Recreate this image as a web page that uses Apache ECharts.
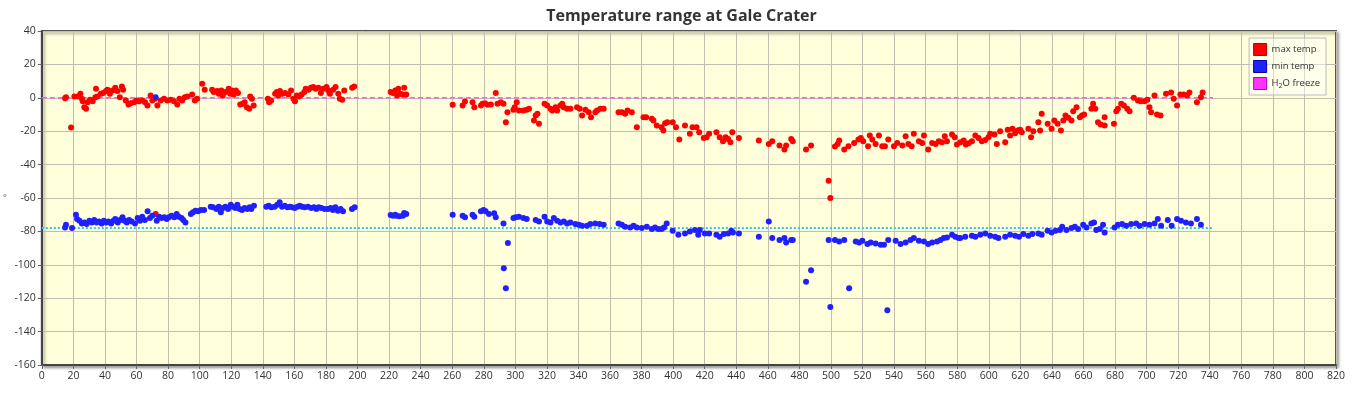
<!DOCTYPE html>
<html><head><meta charset="utf-8">
<script src="https://cdn.jsdelivr.net/npm/echarts@6/dist/echarts.min.js"></script>
<style>html,body{margin:0;padding:0;background:#fff}#c{width:1363px;height:393px}</style>
</head><body><div id="c"></div>
<script>
// [sol, °C] pairs
const maxTemp = [
[14.7,-0.2],[15.3,0.4],[18.5,-17.8],[20.6,0.8],[22.7,0.8],[24.4,2.4],[25.4,-0.6],[25.9,-2],[26.9,-5.6],[28,-6.6],[29,-2.6],[30.5,-1.2],[32.2,-2],[33.9,0.4],[34.3,5.4],[35.3,0.8],[37.4,2.4],[38.9,2.8],[40.6,4],[41.6,4.8],[43.1,2.4],[44.8,4.4],[46.5,6],[47.9,4],[49.4,0.4],[50.7,6.8],[51.5,4.8],[53.2,-1.6],[54.9,-4],[56.3,-3.2],[58.5,-2.6],[59.9,-1.6],[61.6,-2],[63.7,-1.6],[65.4,-2.6],[66.9,-4.6],[68.9,1.4],[70,-1.6],[71.7,-0.6],[72.1,-69.6],[73.2,-4.6],[75.3,-1.6],[77.4,-0.6],[79.5,-1.6],[81.6,-1.2],[83.7,-2],[85.8,-4],[87.2,-0.6],[88.9,-1.6],[90.6,0.4],[92.1,0.8],[95.2,2],[96.9,-1.6],[98.4,-0.6],[101.6,8.4],[103.2,4.8],[107.9,4.8],[108.9,3.4],[111,4],[112.1,2.4],[113.7,4.4],[114.6,1.4],[116.3,3.4],[118.4,5.4],[119.4,2.4],[120.5,4.4],[121.5,2],[123,4.4],[124.3,2.8],[125.7,-4],[127.2,-3.6],[128.5,-2.6],[129.9,-5.6],[131.4,-6.6],[132,0.8],[133.1,-0.6],[134.2,-4.6],[143.2,-0.6],[144,-2.6],[145.3,-1.6],[147.8,2.4],[148.9,3.4],[149.9,1.4],[150.9,4],[152.4,2.4],[154.1,2.8],[156.2,2],[157.9,4.4],[159.4,-0.6],[160.4,-2],[161.5,1.4],[162.9,0.8],[164.6,2],[166.3,3.4],[167.2,5.4],[168.9,4.8],[170.5,6],[172,6.4],[173.5,5.4],[175.2,6],[176.8,2.8],[178.3,5.4],[180.4,6.4],[181.5,4.4],[182.5,2.4],[184.6,4.8],[186.1,6.4],[187.8,2.4],[188.8,-0.6],[190.3,-1.2],[191.6,4.4],[196.6,6],[197.9,6.8],
[221,3.4],[222.4,2.8],[223.9,4.4],[225.1,1.4],[225.9,5.4],[227.2,2.4],[228.6,2],[229.6,6],[230.9,2],
[260.3,-4.2],[266.6,-4.6],[268.1,-2.2],[272.9,-2.6],[274,-5.6],[278.2,-4.6],[279.2,-3.6],[280.7,-3.2],[282.4,-4.2],[284.5,-4],[287.6,2.8],[288.7,-3.6],[290.8,-2.6],[292.5,-3.6],[294,-14.6],[295,-8.6],[298.8,-7.2],[299.6,-5.6],[300.9,-2.6],[302.3,-7.6],[305.1,-7.6],[307.2,-7.2],[308.7,-6.6],[311.8,-13.6],[312.9,-10.6],[314,-9.6],[315,-15.6],[318.5,-3.6],[320.2,-4.6],[322.3,-6.6],[323.4,-7.6],[325.5,-5.6],[326.5,-7.6],[328.6,-4.6],[329.7,-3.6],[330.7,-5.6],[332.8,-6.6],[334.9,-6.6],[339.1,-5.6],[340.8,-6.6],[342.3,-10.6],[344.4,-7.2],[346.5,-8.6],[348,-11.6],[350.7,-8.6],[351.8,-7.6],[353.9,-6.6],[356,-6.6],[365.4,-8.6],[367.5,-8.6],[369.6,-9.6],[371.1,-7.6],[373.8,-8.6],[377,-17.6],[381.2,-11.6],[382.9,-11.6],[386.5,-12.6],[387.5,-13.6],[389.6,-16.6],
[392.7,-17.6],[393.8,-19.6],[394.9,-15.2],[396.3,-14.6],[399.7,-14.6],[401.8,-17.6],[403.9,-25],[407.5,-16.6],[410.6,-21.6],[412.3,-17.6],[414.8,-17.6],[416.5,-20.6],[419.4,-24],[421.2,-23.6],[422.8,-21.6],[427.4,-20.6],[429.5,-23.6],[431.6,-26],[433.3,-23.6],[434.8,-24.6],[436.3,-26.6],[437.5,-20.6],[441.7,-24],[454.3,-25.6],[460.6,-27.6],[462.8,-26],[467.4,-28.6],[470.5,-31],[471.6,-28.6],[474.8,-24.6],[475.8,-26],[484.2,-31],[487.4,-28.6],[498.5,-49.6],[499.6,-60],[502.5,-29.2],[504.2,-27.6],[505.2,-25.6],[508.4,-31],[511.1,-29],[514.7,-27],[517.4,-25],[518.9,-24],[520.4,-26],[523.5,-29],[524.6,-22.6],[526.2,-25],[528.3,-27.6],[530.4,-22.6],[532.5,-29],[534.2,-29],[536.3,-25],[539.9,-29],[542,-27],[545.2,-28.6],[547.3,-23],[549,-27.6],[551.1,-29],[552.5,-21.6],[555.7,-26],[557.8,-27],[558.9,-22.6],[561.6,-31],[564.1,-27],[566.3,-27.6],[568.3,-26],[570.4,-26.6],[572.1,-23],[573.5,-26],[576.7,-22],[578.4,-23.6],[579.8,-28],
[582,-26.6],[584.1,-25.6],[585.5,-28],[587.2,-27.2],[589.3,-26],[591.5,-22.6],[593.5,-24],[595.6,-26],[597.8,-25.2],[599.8,-23.6],[600.9,-21.6],[603.6,-22],[605.1,-27.6],[607.2,-20],[610.4,-26.6],[612,-19.2],[613.5,-22.6],[615,-18.6],[616.7,-21.2],[618.3,-19.6],[619.9,-19.2],[620.9,-20.6],[625.1,-18.6],[626.8,-23.6],[628.2,-20],[631.4,-14.6],[632.5,-19.6],[633.5,-9.6],[637.3,-15.6],[639.8,-18.6],[641.5,-13.6],[643.6,-15.6],[645.7,-19.6],[647.2,-13.6],[648.6,-10.6],[650.3,-12],[652.4,-13.6],[653.5,-8],[655.6,-5.6],[657.7,-11.6],[659.1,-10.6],[660.4,-10],[665,-6.6],[666.1,-3.6],[667.5,-6.6],[669.2,-14.6],[670.9,-16],[673.4,-16.6],[673.4,-11.6],[679.3,-15.6],[680.8,-8],[681.8,-6.6],[683.9,-3.6],[685.6,-4.6],[687.7,-6.6],[689.2,-8],[691.9,0],[694.5,-1.6],[696.2,-2],[698.7,-2],[700.4,-1.2],[701.8,-5.6],[702.8,-8.6],[705,1.4],[706.6,-10],[708.8,-10.6],[712.3,2.4],[715.5,3.2],[717.2,-0.6],[719.3,-4.6],[721.4,2],[723.5,2],[725.6,1.4],[727.1,3.2],[731.9,-2.6],[734.4,0.4],[735.5,3.2]
];
const minTemp = [
[14.7,-77.6],[15.3,-76],[19.1,-78],[21.6,-70],[22.3,-72.6],[23.8,-73.6],[25.4,-75.2],[26.9,-74.6],[28.4,-75.6],[30.1,-73.6],[31.7,-74.6],[33.2,-73.2],[34.7,-74.6],[36.2,-74],[37.9,-75.2],[39.3,-73.6],[40.8,-74.6],[42.2,-74],[43.9,-75.2],[45.4,-73.6],[46.5,-72.6],[48.1,-74.6],[49.6,-73.2],[51.1,-71.6],[52.4,-73.6],[53.8,-74.6],[55.3,-73.2],[56.9,-74],[59,-75.2],[60.7,-72],[62.2,-73.6],[63.6,-71.2],[65.3,-73.2],[67,-68],[68.5,-72],[70,-70.6],[72.1,0.4],[72.8,-73.6],[74.3,-71.2],[75.9,-72],[77.6,-71.6],[79.1,-72.6],[80.5,-71.6],[82.2,-70.6],[83.9,-71.6],[85.4,-69.6],[86.8,-71.2],[88.5,-72],[89.6,-73.2],[91,-74.6],[94.4,-69.6],[95.8,-68.6],[97.3,-67.6],[99,-68],[100.7,-67.2],[102.8,-67.2],[107,-65.2],[108.5,-65.6],[110.6,-66.6],[112.1,-65.2],[113.4,-68.6],[114.8,-66],[116.3,-65.2],[118,-66.6],[119.7,-64],[121.1,-65.2],[122.6,-66],[123.9,-64],[125.4,-66.6],[126.8,-67.2],[128.5,-66],[130.2,-66.6],[131.7,-65.6],[132.7,-66.6],[134.4,-64.6],[142.2,-65.2],[143.7,-64.6],[145.4,-65.6],[147.5,-65.2],[149.2,-64],[150.7,-62.6],[152.2,-65.2],[153.9,-64.6],[155.6,-65.6],[157.1,-65.2],[158.5,-65.6],[160.2,-66],[161.9,-65.2],[163.4,-64.6],[164.8,-65.2],[166.5,-65.6],[168.6,-65.2],[170.7,-66],[172.4,-65.6],[173.9,-66.6],[175.4,-65.6],[177.1,-66],[179.2,-66.6],[181.3,-66.6],[183,-66],[184.4,-67.2],[186,-65.6],[187.6,-67.6],[189.3,-66.6],[190.8,-68],[196.5,-66.6],[198.2,-65.6],
[221,-70.2],[222.4,-70.6],[223.9,-70],[224.5,-70.6],[226.6,-71],[228.8,-70.6],[229.6,-69],[230.9,-69.6],
[260.3,-70],[266.6,-70.6],[268.1,-71.6],[272.9,-70],[274,-71.2],[278.2,-68],[279.9,-67.2],[281.2,-68],[283.3,-69.6],[286.6,-69.2],[287.6,-71.6],[292.5,-75.2],[292.7,-102],[294,-114],[295.3,-87],[298.8,-72],[300.2,-71.6],[302.3,-71.2],[305.1,-72],[307.2,-72.6],[312.9,-73.2],[315,-74],[318.5,-71.2],[320.2,-74],[322.3,-74.6],[324.4,-72],[326.5,-73.6],[328.6,-74.6],[330.7,-74],[332.8,-75.2],[334.9,-74.6],[338,-75.6],[340.2,-76],[342.3,-76.6],[345.4,-76.6],[347.5,-75.6],[350.7,-75.2],[353.4,-75.6],[356,-76],[365.4,-75.2],[367.5,-76],[369.6,-77.2],[372.8,-77.6],[374.9,-76.6],[377,-77.6],[380.1,-78],[383.3,-77.2],[386.5,-78.6],[388.5,-77.6],[390.6,-78.6],
[392.7,-78.6],[394.2,-77.6],[395.9,-75.2],[399.7,-79.6],[403.3,-82],[407.5,-81.2],[410.6,-80],[413.8,-79.2],[415.9,-82],[416.9,-79.2],[420.1,-81.2],[422.8,-81.2],[427.4,-82],[429.5,-83.2],[432.1,-81.6],[434.8,-81.2],[436.9,-79.6],[437.9,-80.6],[441.7,-81.2],[454.3,-83.2],[460.6,-74],[462.8,-84],[467.4,-85.2],[470.5,-84],[471.6,-86.6],[474.8,-85.2],[475.8,-85.2],[484.2,-110.2],[487.4,-103.2],[498.5,-85.2],[499.6,-125.2],[502.5,-85.2],[505.2,-86],[508.4,-85.2],[511.5,-114],[515.7,-86],[517.8,-86.6],[519.9,-85.6],[523.1,-87.6],[525.2,-86.6],[528.3,-87.2],[531.5,-88],[533.6,-88],[535.7,-127.2],[536.3,-85.2],[541,-85.6],[544.1,-87.6],[547.3,-86.6],[550.4,-85.2],[552.5,-84],[555.7,-85.6],[558.9,-86],[561.6,-87.6],[564.1,-86.6],[567.2,-86],[569.4,-85.2],[571.5,-84],[573.5,-83.6],[576.7,-82],[578.8,-83.2],[580.9,-84],
[582,-84],[585.1,-83.2],[589.3,-82.6],[591.5,-83.2],[594.6,-82],[597.8,-81.2],[600.9,-82.6],[604,-83.2],[606.1,-84],[610.4,-83.2],[613.5,-82],[616.7,-82.6],[619.2,-83.2],[621.9,-81.6],[625.1,-82.6],[627.6,-81.6],[631.4,-81.2],[633.5,-82],[637.3,-79.6],[639.8,-80.6],[642.3,-79.6],[645.1,-79.2],[646.5,-77.2],[649.2,-79.2],[652.4,-78],[654.5,-77.2],[656.6,-78.6],[659.8,-76],[661.9,-77.6],[665,-75.2],[666.7,-74.6],[668.1,-79.2],[670.3,-78.6],[672.4,-76],[673.4,-80.6],[679.7,-77.6],[681.8,-76],[684.4,-75.6],[687.1,-76.6],[690.2,-75.6],[693.4,-75.2],[695.5,-76.6],[698.7,-75.6],[701.8,-76],[705,-75.2],[707.1,-72.6],[709.2,-76.6],[713.4,-73.2],[715.9,-76.6],[719.3,-72.6],[721.8,-73.6],[724.9,-74.6],[728.1,-75.2],[731.9,-72.6],[734.4,-76]
];
const freezeLine = [[0,0],[742,0]];
const minRefLine = [[0,-78],[742,-78]];
const titleText = 'Temperature range at Gale Crater';

const FONT = 'Open Sans';
const chart = echarts.init(document.getElementById('c'), null, {renderer:'canvas'});
chart.setOption({
  animation:false,
  backgroundColor:'#ffffff',
  title:{text:titleText,left:'center',top:3,textStyle:{fontFamily:FONT,fontSize:16,fontWeight:'bold',color:'#333'}},
  grid:{left:38,top:31,width:1298,height:334,show:true,backgroundColor:'#ffffdb',borderColor:'#555',borderWidth:2,
        shadowColor:'rgba(0,0,0,0.35)',shadowBlur:3,shadowOffsetX:2,shadowOffsetY:2},
  legend:{orient:'vertical',right:37,top:38,backgroundColor:'rgba(255,255,255,0.45)',borderColor:'#bbb',borderWidth:1,
          padding:[5,6,5,4],itemGap:4,itemWidth:13,itemHeight:12,icon:'rect',
          textStyle:{fontFamily:FONT,fontSize:9.5,color:'#333',
            rich:{n:{fontFamily:FONT,fontSize:9.5,color:'#333'},s:{fontFamily:FONT,fontSize:7,color:'#333',verticalAlign:'bottom',padding:[5,0,0,0]}}},
          formatter:function(n){ if(n==='H2O freeze') return '{n|H}{s|2}{n|O freeze}'; return '{n|'+n+'}'; },
          data:[{name:'max temp',itemStyle:{color:'#ff0000',borderColor:'#b00',borderWidth:1}},
                {name:'min temp',itemStyle:{color:'#2222ff',borderColor:'#00a',borderWidth:1}},
                {name:'H2O freeze',itemStyle:{color:'#ff33ff',borderColor:'#b0b',borderWidth:1}}]},
  xAxis:{type:'value',min:0,max:820,interval:20,
    axisLine:{show:true,onZero:false,lineStyle:{color:'#444',width:2}},
    axisTick:{show:true,length:4,lineStyle:{color:'#666'}},
    axisLabel:{fontFamily:FONT,fontSize:10.5,color:'#333',margin:6},
    splitLine:{show:true,lineStyle:{color:'#c4bcae',width:1}}},
  yAxis:{type:'value',min:-160,max:40,interval:20,name:'°',nameLocation:'middle',nameGap:35,nameRotate:0,
    nameTextStyle:{fontFamily:FONT,fontSize:9,color:'#555'},
    axisLine:{show:true,onZero:false,lineStyle:{color:'#444',width:2}},
    axisTick:{show:true,length:4,lineStyle:{color:'#666'}},
    axisLabel:{fontFamily:FONT,fontSize:10.5,color:'#333',margin:6},
    splitLine:{show:true,lineStyle:{color:'#c4bcae',width:1}}},
  series:[
    {name:'H2O freeze',type:'line',data:freezeLine,symbol:'none',z:1,
      lineStyle:{color:'#ff55ff',width:1.5,type:[5,3]},itemStyle:{color:'#ff33ff'}},
    {name:'min ref',type:'line',data:minRefLine,symbol:'none',z:1,
      lineStyle:{color:'#22ccf0',width:2,type:[2,2]}},
    {name:'max temp',type:'scatter',data:maxTemp,symbol:'circle',symbolSize:6,z:3,
      itemStyle:{color:'#ff0000',opacity:1}},
    {name:'min temp',type:'scatter',data:minTemp,symbol:'circle',symbolSize:6,z:3,
      itemStyle:{color:'#2020ff',opacity:1}}
  ]
});
</script></body></html>
